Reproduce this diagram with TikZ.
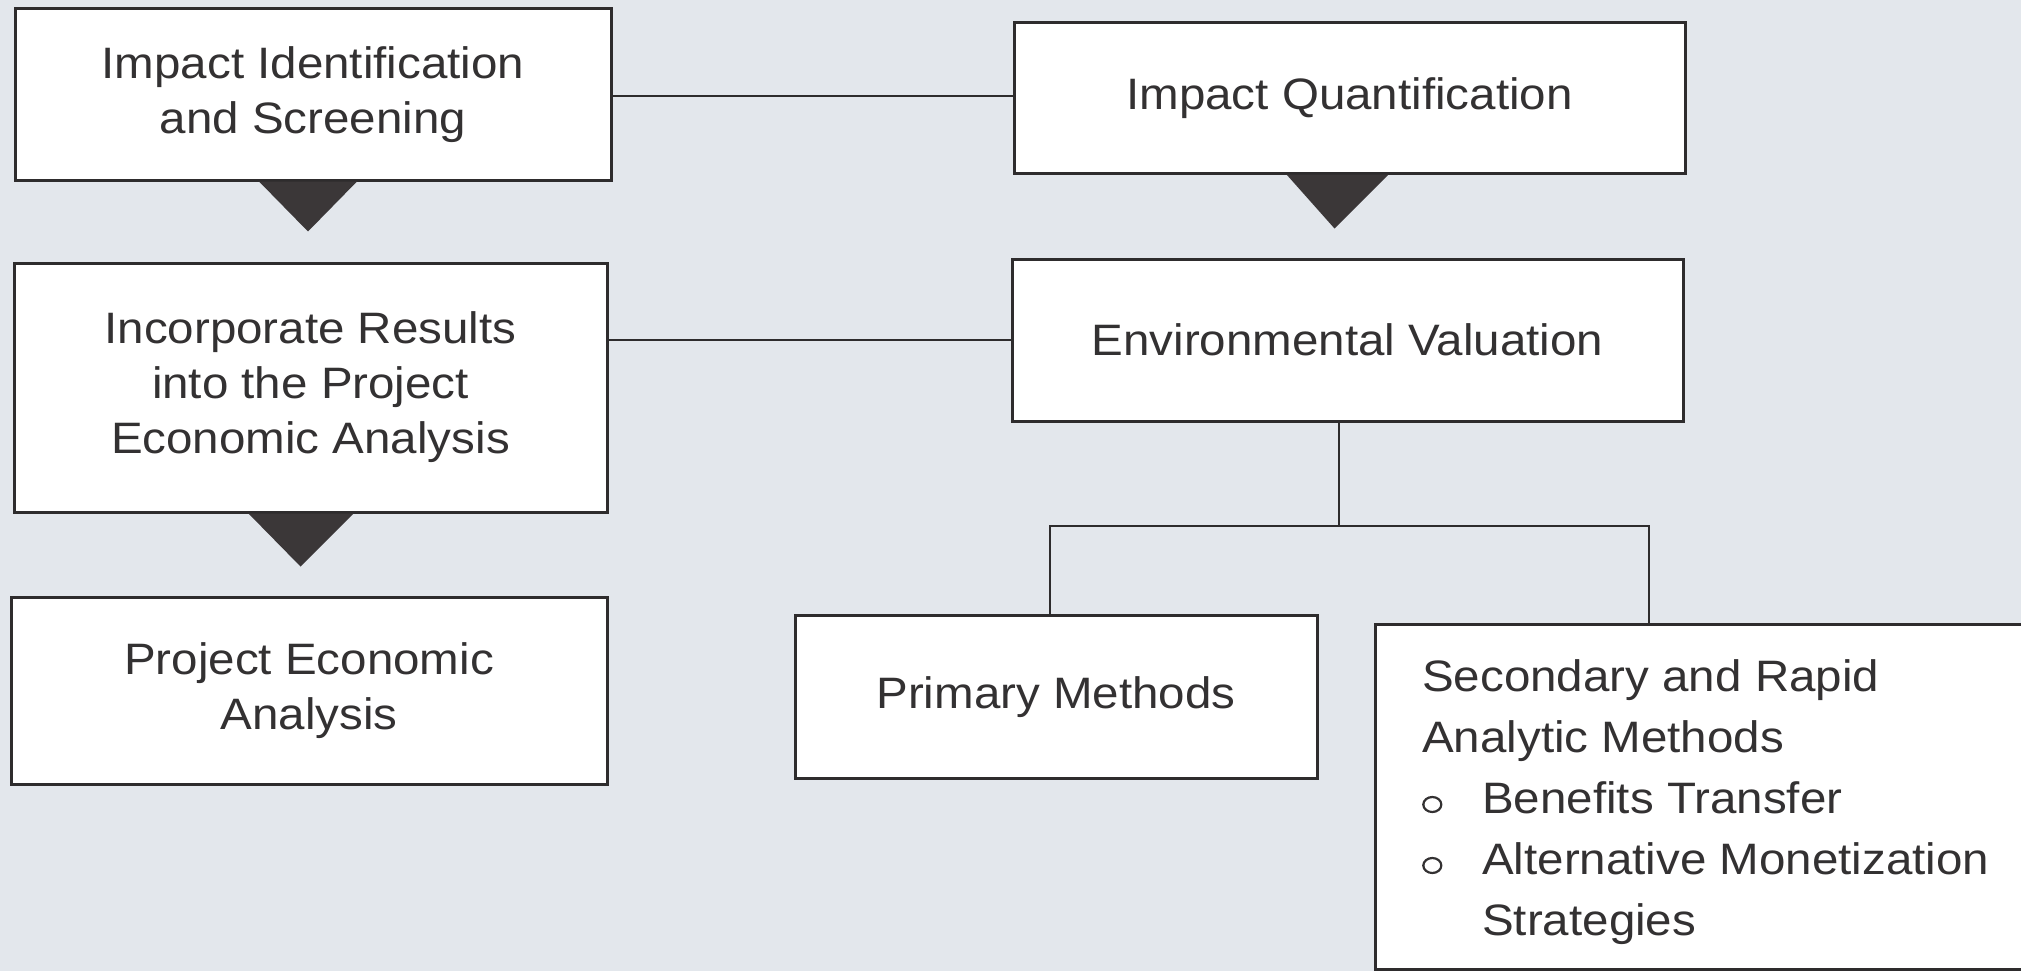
\documentclass[tikz,border=0pt]{standalone}
\usepackage{fontspec}
\setmainfont[FakeStretch=1.08]{Liberation Sans}
\definecolor{bg}{HTML}{E3E7EC}
\definecolor{boxline}{HTML}{2E2C2D}
\definecolor{txt}{HTML}{333132}
\definecolor{trifill}{HTML}{3B3738}
\newcommand\hollowbul{\tikz[baseline=0pt]\draw[line width=2.2pt, draw=txt] (10pt,8.5pt) ellipse[x radius=9pt, y radius=7.5pt];}
\begin{document}
\begin{tikzpicture}[x=1pt,y=-1pt,
  box/.style={draw=boxline, line width=3pt, fill=white, text=txt, align=center,
    inner sep=0pt, font=\fontsize{44}{55}\selectfont},
  link/.style={draw=boxline, line width=2.5pt},
  tri/.style={fill=trifill}]
\fill[bg] (0,0) rectangle (2021,971);
\useasboundingbox (0,0) rectangle (2021,971);

\node[box, minimum width=596pt, minimum height=171pt] (b1) at (313,94.5) {Impact Identification\\and Screening};
\node[box, minimum width=671pt, minimum height=150pt] (b2) at (1349.5,98) {Impact Quantification};
\node[box, minimum width=593pt, minimum height=249pt] (b3) at (310.5,387.5) {Incorporate Results\\into the Project\\Economic Analysis};
\node[box, minimum width=671pt, minimum height=162pt] (b4) at (1347.5,340) {Environmental Valuation};
\node[box, minimum width=596pt, minimum height=187pt] (b5) at (309,690.5) {Project Economic\\Analysis};
\node[box, minimum width=522pt, minimum height=163pt] (b6) at (1056,697) {Primary Methods};
\node[box, minimum width=680pt, minimum height=345pt, anchor=north west] (b7) at (1374,623) {};
\node[anchor=base west, inner sep=0pt, align=left, text=txt,
  font=\fontsize{44}{61}\selectfont] (t7) at ([xshift=48pt,yshift=-312pt]b7.north west)
  {Secondary and Rapid\\Analytic Methods\\
   \makebox[60pt][l]{\hollowbul}Benefits Transfer\\
   \makebox[60pt][l]{\hollowbul}Alternative Monetization\\
   \hspace*{60pt}Strategies};

% horizontal links
\draw[link] (b1.east |- 0,96) -- (b2.west |- 0,96);
\draw[link] (b3.east |- b4.west) -- (b4.west);

% tree
\coordinate (jm) at (1339,526);
\coordinate (jl) at (1050,526);
\coordinate (jr) at (1649,526);
\draw[link] (jm |- b4.south) -- (jm);
\draw[link] (jl |- b6.north) -- (jl) -- (jr) -- (jr |- b7.north);

% triangles
\fill[tri] ([xshift=-54pt]b1.south) -- ([xshift=44pt]b1.south) -- ([xshift=-5pt,yshift=-50pt]b1.south) -- cycle;
\fill[tri] ([xshift=-63pt]b2.south) -- ([xshift=39pt]b2.south) -- ([xshift=-15pt,yshift=-54pt]b2.south) -- cycle;
\fill[tri] ([xshift=-62pt]b3.south) -- ([xshift=43pt]b3.south) -- ([xshift=-10pt,yshift=-53pt]b3.south) -- cycle;
\end{tikzpicture}
\end{document}
